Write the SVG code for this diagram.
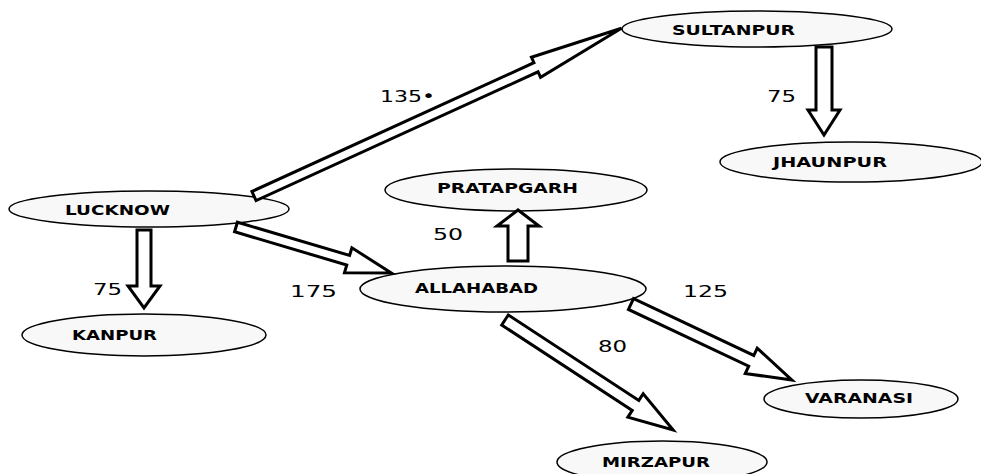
<svg xmlns="http://www.w3.org/2000/svg" width="981" height="474" viewBox="0 0 981 474">
<style>
.node ellipse{fill:#f8f8f8;stroke:#000;stroke-width:1.5}
.node text{font-family:"DejaVu Sans","Liberation Sans",sans-serif;font-weight:bold;font-size:14px;fill:#000}
.arrow{fill:#fff;stroke:#000;stroke-width:3;stroke-linejoin:miter}
.w{font-family:"DejaVu Sans","Liberation Sans",sans-serif;font-size:16px;fill:#000}
</style>
<rect width="981" height="474" fill="#fff"/>
<g id="lucknow" class="node"><ellipse cx="149" cy="209" rx="140" ry="18"/><text x="65" y="215" textLength="105" lengthAdjust="spacingAndGlyphs">LUCKNOW</text></g>
<g id="kanpur" class="node"><ellipse cx="144" cy="335" rx="122" ry="21"/><text x="72" y="340" textLength="85" lengthAdjust="spacingAndGlyphs">KANPUR</text></g>
<g id="sultanpur" class="node"><ellipse cx="757" cy="29" rx="135" ry="18"/><text x="672" y="35" textLength="123" lengthAdjust="spacingAndGlyphs">SULTANPUR</text></g>
<g id="jhaunpur" class="node"><ellipse cx="851" cy="162" rx="131" ry="20"/><text x="773" y="167" textLength="114" lengthAdjust="spacingAndGlyphs">JHAUNPUR</text></g>
<g id="pratapgarh" class="node"><ellipse cx="516" cy="190" rx="131" ry="21"/><text x="437" y="193" textLength="141" lengthAdjust="spacingAndGlyphs">PRATAPGARH</text></g>
<g id="allahabad" class="node"><ellipse cx="503" cy="289" rx="143" ry="23"/><text x="415" y="293" textLength="123" lengthAdjust="spacingAndGlyphs">ALLAHABAD</text></g>
<g id="varanasi" class="node"><ellipse cx="861" cy="399" rx="97" ry="19"/><text x="805" y="403" textLength="108" lengthAdjust="spacingAndGlyphs">VARANASI</text></g>
<g id="mirzapur" class="node"><ellipse cx="662" cy="462" rx="105" ry="21"/><text x="602" y="467" textLength="108" lengthAdjust="spacingAndGlyphs">MIRZAPUR</text></g>
<g id="connectors">
<path class="arrow" transform="translate(144,230) rotate(90)" d="M0,-7 L56,-7 L56,-16 L78,0 L56,16 L56,7 L0,7 Z"/>
<path class="arrow" transform="translate(824,47) rotate(90)" d="M0,-8 L63,-8 L63,-16 L88,0 L63,16 L63,8 L0,8 Z"/>
<path class="arrow" transform="translate(518,261) rotate(-90)" d="M0,-10 L35,-10 L35,-21 L51,0 L35,21 L35,10 L0,10 Z"/>
<path class="arrow" transform="translate(254,196) rotate(-24.54)" d="M0,-5 L310,-5 L310,-11 L404,0 L310,11 L310,5 L0,5 Z"/>
<path class="arrow" transform="translate(236,227) rotate(16.5)" d="M0,-5 L117,-5 L117,-13 L162,0 L117,13 L117,5 L0,5 Z"/>
<path class="arrow" transform="translate(631,304) rotate(25.3)" d="M0,-6 L133,-6 L133,-14 L178,0 L133,14 L133,6 L0,6 Z"/>
<path class="arrow" transform="translate(505,320) rotate(33.2)" d="M0,-6 L156,-6 L156,-14 L201,0 L156,14 L156,6 L0,6 Z"/>
</g>
<g id="labels">
<text class="w" x="93" y="295" textLength="29" lengthAdjust="spacingAndGlyphs">75</text>
<text class="w" x="380" y="102" textLength="55" lengthAdjust="spacingAndGlyphs">135•</text>
<text class="w" x="767" y="102" textLength="29" lengthAdjust="spacingAndGlyphs">75</text>
<text class="w" x="433" y="240" textLength="30" lengthAdjust="spacingAndGlyphs">50</text>
<text class="w" x="290" y="297" textLength="47" lengthAdjust="spacingAndGlyphs">175</text>
<text class="w" x="683" y="297" textLength="45" lengthAdjust="spacingAndGlyphs">125</text>
<text class="w" x="598" y="352" textLength="29" lengthAdjust="spacingAndGlyphs">80</text>
</g>
</svg>
